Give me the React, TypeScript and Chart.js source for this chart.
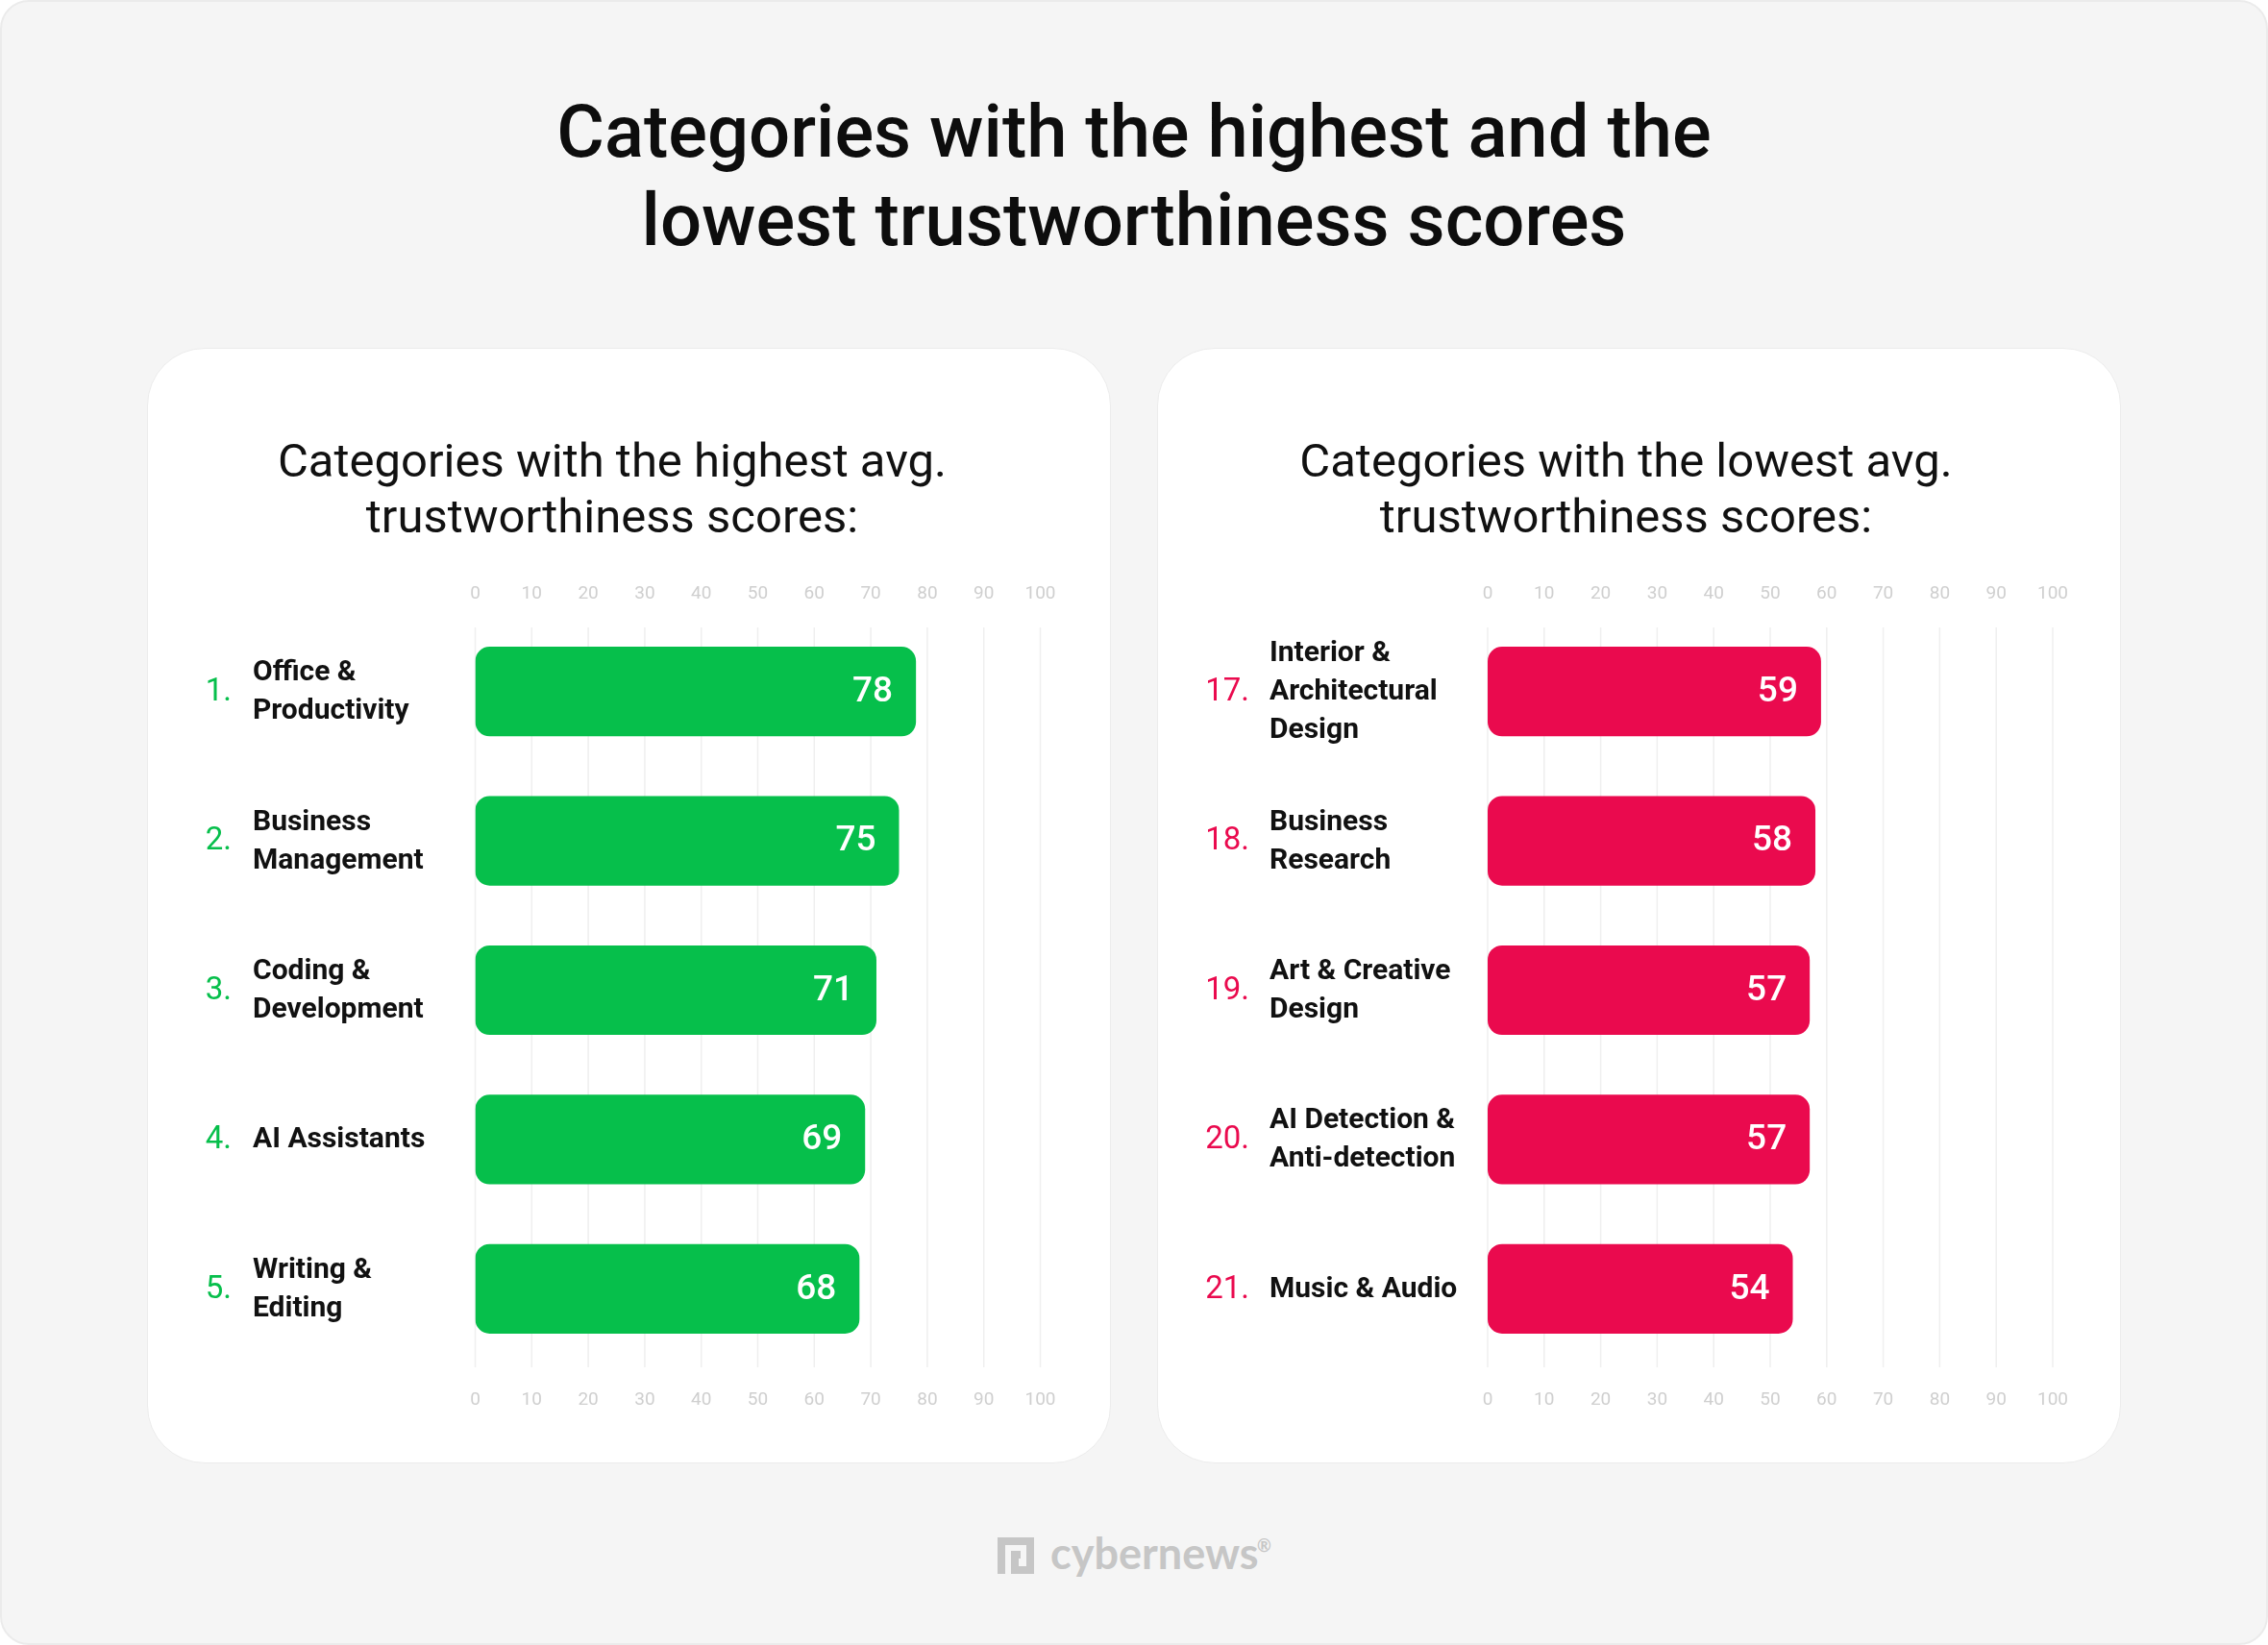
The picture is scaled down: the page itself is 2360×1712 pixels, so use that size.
import React, { useEffect, useRef } from "react";
import { Chart, registerables } from "chart.js";

Chart.register(...registerables);

// ---- data ----
const topRanks = ["1.", "2.", "3.", "4.", "5."];
const topCategories = [
  ["Office &", "Productivity"],
  ["Business", "Management"],
  ["Coding &", "Development"],
  ["AI Assistants"],
  ["Writing &", "Editing"],
];
const topScores = [78, 75, 71, 69, 68];

const bottomRanks = ["17.", "18.", "19.", "20.", "21."];
const bottomCategories = [
  ["Interior &", "Architectural", "Design"],
  ["Business", "Research"],
  ["Art & Creative", "Design"],
  ["AI Detection &", "Anti-detection"],
  ["Music & Audio"],
];
const bottomScores = [59, 58, 57, 57, 54];

const axisMin = 0;
const axisMax = 100;
const axisStep = 10;

const mainTitle = ["Categories with the highest and the", "lowest trustworthiness scores"];
const topSubtitle = ["Categories with the highest avg.", "trustworthiness scores:"];
const bottomSubtitle = ["Categories with the lowest avg.", "trustworthiness scores:"];

// ---- layout ----
const CARD_TOP = 362;
const CARD_H = 1161;
const CARD_W = 1003;
const CHART_TOP = 642;
const CHART_BOTTOM = 1419;
const GRID_TOP = 653;
const GRID_BOTTOM = 1423;
const AXIS_H = 60;
const GREEN = "#06bf4b";
const RED = "#ea0a4e";

type PanelProps = {
  cardX: number;
  chartLeft: number;
  chartRight: number;
  rankRight: number;
  labelX: number;
  ranks: string[];
  categories: string[][];
  scores: number[];
  color: string;
  subtitle: string[];
  subtitleCenter: number;
};

function Panel(p: PanelProps) {
  const ref = useRef<HTMLCanvasElement | null>(null);
  useEffect(() => {
    if (!ref.current) return;
    const gridPlugin = {
      id: "customGrid",
      beforeDatasetsDraw(chart: any) {
        const ctx = chart.ctx;
        const xs = chart.scales.x;
        ctx.save();
        ctx.strokeStyle = "#efefef";
        ctx.lineWidth = 1.5;
        xs.ticks.forEach((t: any) => {
          const x = xs.getPixelForValue(t.value);
          ctx.beginPath();
          ctx.moveTo(x, GRID_TOP - CARD_TOP);
          ctx.lineTo(x, GRID_BOTTOM - CARD_TOP);
          ctx.stroke();
        });
        ctx.restore();
      },
    };
    const labelPlugin = {
      id: "labels",
      afterDatasetsDraw(chart: any) {
        const ctx = chart.ctx;
        const meta = chart.getDatasetMeta(0);
        meta.data.forEach((bar: any, i: number) => {
          const y = bar.y;
          ctx.save();
          ctx.textBaseline = "middle";
          ctx.textAlign = "right";
          ctx.fillStyle = "#ffffff";
          ctx.font = "500 37px Roboto";
          ctx.fillText(String(p.scores[i]), bar.x - 24, y + 1);
          ctx.fillStyle = p.color;
          ctx.font = "400 33px Roboto";
          ctx.fillText(p.ranks[i], p.rankRight, y + 1);
          ctx.textAlign = "left";
          ctx.fillStyle = "#111111";
          ctx.font = "700 30px Roboto";
          const lines = p.categories[i];
          const lh = 40;
          lines.forEach((ln, j) => {
            ctx.fillText(ln, p.labelX, y + 1 + (j - (lines.length - 1) / 2) * lh);
          });
          ctx.restore();
        });
      },
    };
    const tickFont = { family: "Roboto", size: 19, weight: "400" as any };
    const chart = new Chart(ref.current, {
      type: "bar",
      data: {
        labels: p.categories.map((c) => c.join(" ")),
        datasets: [
          {
            data: p.scores,
            backgroundColor: p.color,
            borderRadius: 15,
            borderSkipped: false,
            barPercentage: 0.6,
            categoryPercentage: 1,
          },
        ],
      },
      options: {
        indexAxis: "y",
        responsive: false,
        maintainAspectRatio: false,
        animation: false,
        devicePixelRatio: 1,
        layout: {
          padding: {
            left: p.chartLeft - p.cardX,
            right: p.cardX + CARD_W - p.chartRight,
            top: CHART_TOP - CARD_TOP - AXIS_H,
            bottom: CARD_TOP + CARD_H - CHART_BOTTOM - AXIS_H,
          },
        },
        plugins: { legend: { display: false }, tooltip: { enabled: false } },
        scales: {
          x: {
            position: "bottom",
            min: axisMin,
            max: axisMax,
            ticks: { stepSize: axisStep, color: "#cfcfcf", font: tickFont, padding: 26.6 },
            grid: { display: false, drawTicks: false },
            border: { display: false },
            afterFit: (s: any) => {
              s.height = AXIS_H;
            },
          },
          x2: {
            axis: "x",
            position: "top",
            min: axisMin,
            max: axisMax,
            ticks: { stepSize: axisStep, color: "#cfcfcf", font: tickFont, padding: 12.6 },
            grid: { display: false, drawTicks: false },
            border: { display: false },
            afterFit: (s: any) => {
              s.height = AXIS_H;
            },
          },
          y: { display: false },
        },
      } as any,
      plugins: [gridPlugin, labelPlugin],
    });
    return () => chart.destroy();
  }, []);

  return (
    <>
      <div
        style={{
          position: "absolute",
          left: p.cardX,
          top: CARD_TOP,
          width: CARD_W,
          height: CARD_H,
          background: "#ffffff",
          borderRadius: 60,
          boxSizing: "border-box",
          border: "1.5px solid #ececec",
        }}
      />
      <div
        style={{
          position: "absolute",
          left: p.subtitleCenter - 500,
          width: 1000,
          top: 451,
          textAlign: "center",
          fontFamily: "Roboto",
          fontWeight: 400,
          fontSize: 49,
          lineHeight: "58px",
          color: "#111111",
        }}
      >
        {p.subtitle.map((s, i) => (
          <div key={i}>{s}</div>
        ))}
      </div>
      <canvas
        ref={ref}
        width={CARD_W}
        height={CARD_H}
        style={{ position: "absolute", left: p.cardX, top: CARD_TOP, width: CARD_W, height: CARD_H }}
      />
    </>
  );
}

export default function App() {
  return (
    <div
      style={{
        position: "absolute",
        left: 0,
        top: 0,
        width: 2360,
        height: 1712,
        background: "#ffffff",
        overflow: "hidden",
      }}
    >
      <div
        style={{
          position: "absolute",
          left: 0,
          top: 0,
          width: 2360,
          height: 1712,
          boxSizing: "border-box",
          background: "#f5f5f5",
          border: "2px solid #ebebeb",
          borderRadius: 30,
        }}
      />
      <div
        style={{
          position: "absolute",
          left: 0,
          width: 2360,
          top: 91,
          textAlign: "center",
          fontFamily: "Roboto",
          fontWeight: 500,
          fontSize: 76,
          lineHeight: "92px",
          color: "#0d0d0d",
        }}
      >
        {mainTitle.map((s, i) => (
          <div key={i}>{s}</div>
        ))}
      </div>
      <Panel
        cardX={153}
        chartLeft={494.5}
        chartRight={1082.5}
        rankRight={241 - 153}
        labelX={263 - 153}
        ranks={topRanks}
        categories={topCategories}
        scores={topScores}
        color={GREEN}
        subtitle={topSubtitle}
        subtitleCenter={637}
      />
      <Panel
        cardX={1204}
        chartLeft={1548}
        chartRight={2136}
        rankRight={1300 - 1204}
        labelX={1321 - 1204}
        ranks={bottomRanks}
        categories={bottomCategories}
        scores={bottomScores}
        color={RED}
        subtitle={bottomSubtitle}
        subtitleCenter={1692}
      />
      {/* footer logo */}
      <div style={{ position: "absolute", left: 1038, top: 1600, width: 38, height: 38 }}>
        <svg width="38" height="38" viewBox="0 0 38 38">
          <path
            d="M0 0 H38 V38 H22 V30 H30 V8 H8 V38 H0 Z M14 14 H24 V22 H22 V38 H14 Z"
            fill="#c6c6c6"
            fillRule="evenodd"
          />
        </svg>
      </div>
      <div
        style={{
          position: "absolute",
          left: 1093,
          top: 1588,
          fontFamily: "Lato",
          fontWeight: 700,
          fontSize: 45,
          lineHeight: "56px",
          color: "#c6c6c6",
        }}
      >
        cybernews
      </div>
      <div
        style={{
          position: "absolute",
          left: 1308,
          top: 1598,
          fontFamily: "Lato",
          fontWeight: 700,
          fontSize: 18,
          lineHeight: "20px",
          color: "#c6c6c6",
        }}
      >
        ®
      </div>
    </div>
  );
}
